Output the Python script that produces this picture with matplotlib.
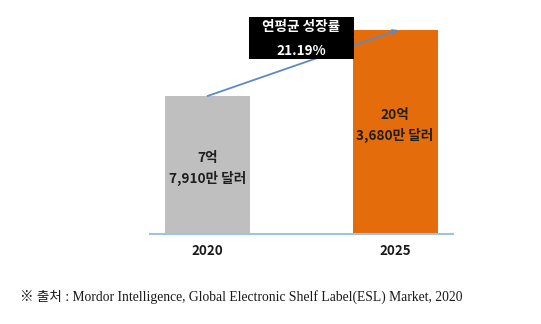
import matplotlib.pyplot as plt
from matplotlib.patches import Rectangle

years = ['2020', '2025']
bar_heights = [138, 204]          # drawn heights
bar_labels = ['7억\n7,910만 달러', '20억\n3,680만 달러']
bar_colors = ['#bfbfbf', '#e46c0a']
cagr_title = '연평균 성장률'
cagr_value = '21.19%'
source = '※ 출처 : Mordor Intelligence, Global Electronic Shelf Label(ESL) Market, 2020'

kfont = ['Noto Sans CJK KR', 'DejaVu Sans']
plt.rcParams['font.family'] = kfont

fig = plt.figure(figsize=(5.41, 3.24), dpi=100)
ax = fig.add_axes([150 / 541, 90 / 324, 303 / 541, 234 / 324])

x = list(range(len(years)))
ax.bar(x, bar_heights, width=0.453, color=bar_colors, zorder=2)
ax.set_xlim(-0.307, 1.309)
ax.set_ylim(0, 234)
ax.axhline(0, color='#9dc3e6', lw=1.5, zorder=3, clip_on=False)

for s in ax.spines.values():
    s.set_visible(False)
ax.set_yticks([])
ax.set_xticks(x)
ax.set_xticklabels(years, fontsize=9.6, fontweight='bold', color='#1a1a1a')
ax.tick_params(axis='x', length=0, pad=7)

# value labels inside bars
ax.text(0, 65.5, bar_labels[0], ha='center', va='center', fontsize=9.8,
        fontweight='bold', color='#1f1f1f', linespacing=1.55)
ax.text(1, 108.5, bar_labels[1], ha='center', va='center', fontsize=9.8,
        fontweight='bold', color='#1f1f1f', linespacing=1.55)

# growth arrow
ax.annotate('', xy=(1.016, bar_heights[1]), xytext=(0, bar_heights[0]),
            arrowprops=dict(arrowstyle='-|>', color='#5b8ac5', lw=1.3,
                            mutation_scale=7, shrinkA=0, shrinkB=0),
            zorder=4)

# black CAGR box
ax.add_patch(Rectangle((0.221, 175), 0.56, 42, facecolor='black',
                       edgecolor='none', zorder=5, clip_on=False))
ax.text(0.5, 207, cagr_title, ha='center', va='center', fontsize=9.8,
        fontweight='bold', color='white', zorder=6)
ax.text(0.5, 183, cagr_value, ha='center', va='center', fontsize=9.8,
        fontweight='bold', color='white', zorder=6)

fig.text(20 / 541, 1 - 297 / 324, source, ha='left', va='center', fontsize=9.8,
         family=['Liberation Serif', 'Noto Sans CJK KR'], color='#1a1a1a')

fig.savefig('out.png', dpi=100)
